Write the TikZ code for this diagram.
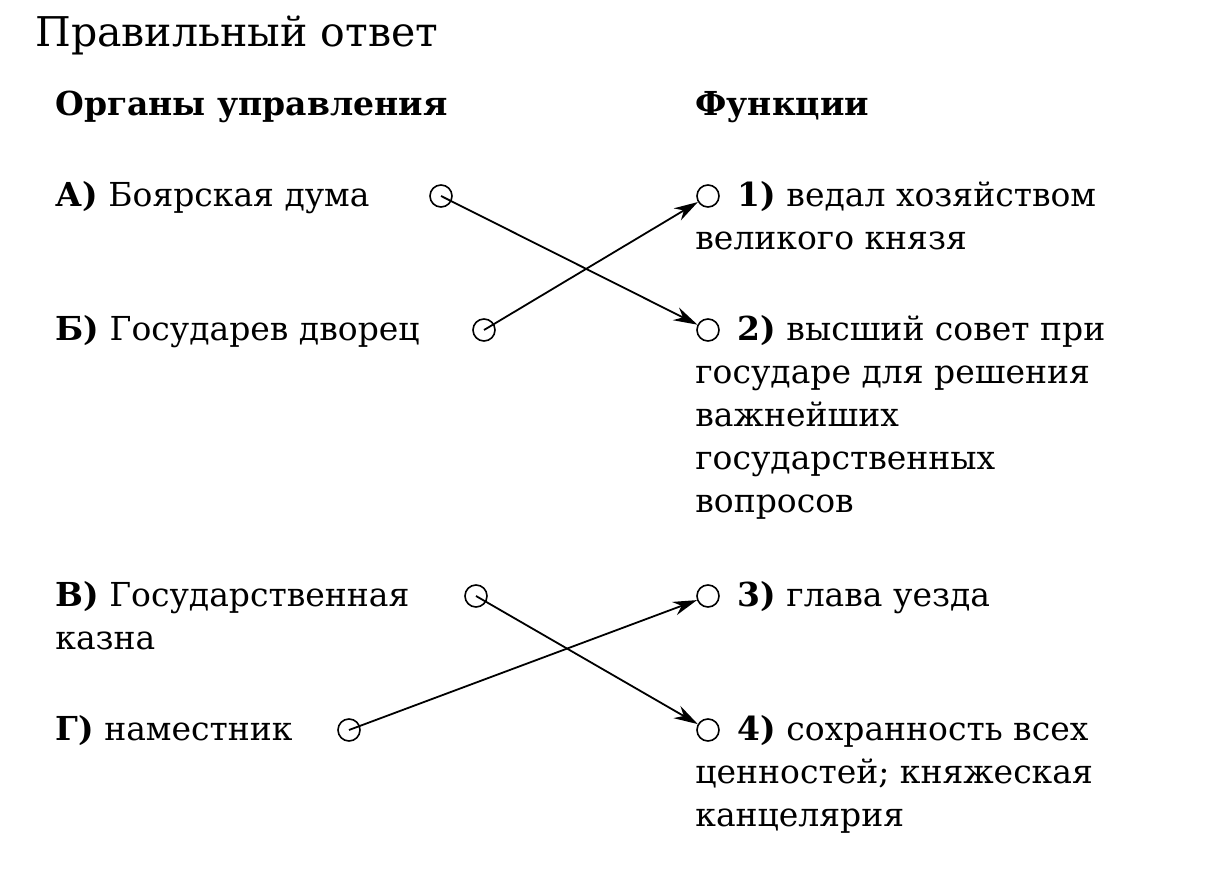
\documentclass[tikz,border=0pt]{standalone}
\usepackage{fontspec}
\setmainfont{DejaVu Serif}
\usetikzlibrary{arrows.meta}
\begin{document}
\begin{tikzpicture}[x=0.5pt,y=-0.5pt,
 t/.style={anchor=base west,inner sep=0pt,font=\fontsize{16.5}{19}\selectfont},
 pt/.style={circle,draw,line width=0.8pt,minimum size=11pt,inner sep=0pt},
 ar/.style={line width=0.9pt,-{Stealth[length=12pt,width=7pt]}}]
\useasboundingbox (0,0) rectangle (1205,886);
\node[t] (title) at (35,47) {\fontsize{20.5}{23}\selectfont Правильный ответ};
\node[t] (h1) at (55,116) {\textbf{Органы управления}};
\node[t] (h2) at (695,116) {\textbf{Функции}};
\node[t] (la) at (55,207) {\textbf{А)} Боярская дума};
\node[t] (lb) at (55,341) {\textbf{Б)} Государев дворец};
\node[t] (lv) at (55,607) {\textbf{В)} Государственная};
\node[t] (lv2) at (55,650) {казна};
\node[t] (lg) at (55,741) {\textbf{Г)} наместник};
\node[pt] (ca) at (441,196) {};
\node[pt] (cb) at (484,330) {};
\node[pt] (cv) at (476,596) {};
\node[pt] (cg) at (349,730) {};
\node[pt] (c1) at (708,196) {};
\node[pt] (c2) at (708,330) {};
\node[pt] (c3) at (708,596) {};
\node[pt] (c4) at (708,730) {};
\node[t] (r1) at (737,207) {\textbf{1)} ведал хозяйством};
\node[t] (r1b) at (695,250) {великого князя};
\node[t] (r2) at (737,341) {\textbf{2)} высший совет при};
\node[t] (r2b) at (695,384) {государе для решения};
\node[t] (r2c) at (695,427) {важнейших};
\node[t] (r2d) at (695,470) {государственных};
\node[t] (r2e) at (695,513) {вопросов};
\node[t] (r3) at (737,607) {\textbf{3)} глава уезда};
\node[t] (r4) at (737,741) {\textbf{4)} сохранность всех};
\node[t] (r4b) at (695,784) {ценностей; княжеская};
\node[t] (r4c) at (695,827) {канцелярия};
\draw[ar] (ca.center) -- (c2);
\draw[ar] (cb.center) -- (c1);
\draw[ar] (cv.center) -- (c4);
\draw[ar] (cg.center) -- (c3);
\end{tikzpicture}
\end{document}
